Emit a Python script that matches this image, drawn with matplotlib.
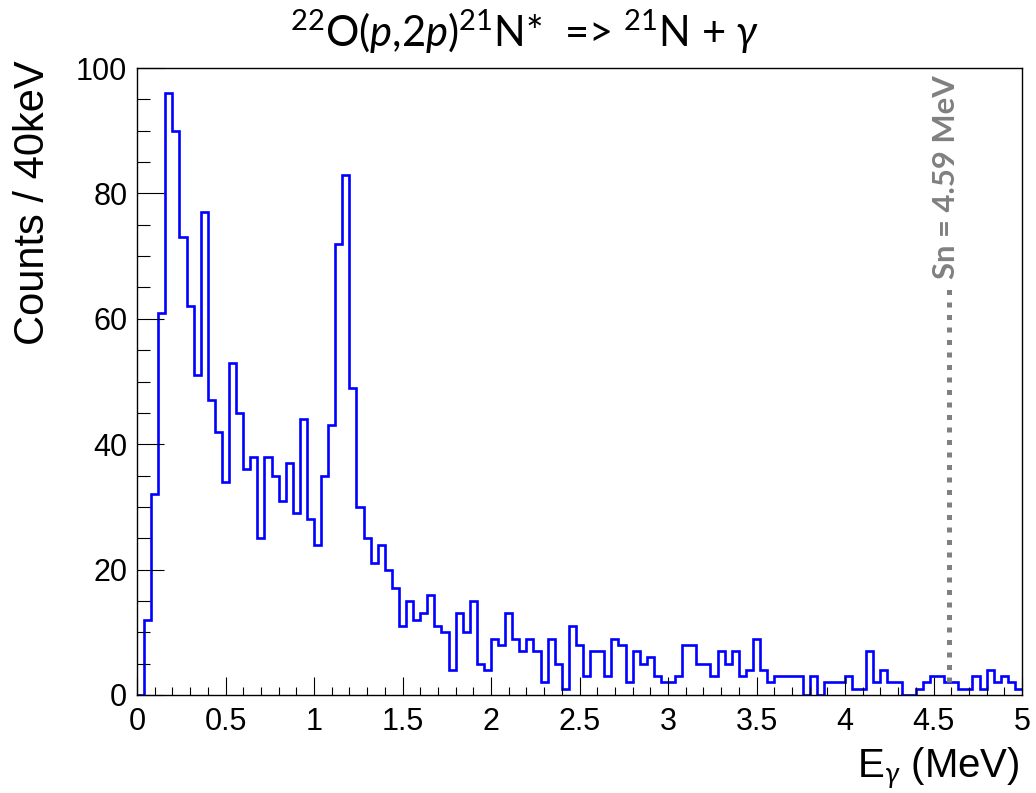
import numpy as np
import matplotlib
matplotlib.use("Agg")
import matplotlib.pyplot as plt
from matplotlib.ticker import MultipleLocator

# gamma spectrum, 40 keV bins from 0 to 5 MeV
bin_width = 0.04
counts = [
    0, 12, 32, 61, 96, 90, 73, 62, 51, 77, 47, 42, 34, 53, 45, 36, 38, 25, 38, 35, 31, 37, 29, 44, 28,
    24, 35, 43, 72, 83, 49, 30, 25, 21, 24, 20, 17, 11, 15, 12, 13, 16, 11, 10, 4, 13, 10, 15, 5, 4,
    9, 8, 13, 9, 7, 9, 7, 2, 9, 5, 1, 11, 8, 3, 7, 7, 3, 9, 8, 2, 7, 5, 6, 3, 2,
    2, 3, 8, 8, 5, 5, 3, 7, 5, 7, 3, 4, 9, 4, 2, 3, 3, 3, 3, 0, 3, 0, 2, 2, 2,
    3, 1, 1, 7, 2, 4, 2, 2, 0, 0, 1, 2, 3, 3, 2, 2, 1, 1, 3, 1, 4, 2, 3, 2, 1,
]
edges = np.arange(len(counts) + 1) * bin_width

sn_energy = 4.59
sn_range = [2, 65.5]
sn_label = "Sn = 4.59 MeV"

x_ticks = [0, 0.5, 1, 1.5, 2, 2.5, 3, 3.5, 4, 4.5, 5]
x_ticklabels = ["0", "0.5", "1", "1.5", "2", "2.5", "3", "3.5", "4", "4.5", "5"]
y_ticks = [0, 20, 40, 60, 80, 100]

plt.rcParams["font.family"] = ["Liberation Sans", "DejaVu Sans"]
plt.rcParams["mathtext.fontset"] = "custom"
plt.rcParams["mathtext.rm"] = "Lato"
plt.rcParams["mathtext.it"] = "Lato:italic"
plt.rcParams["mathtext.bf"] = "Lato:bold"

fig = plt.figure(figsize=(10.36, 7.93), dpi=100)
ax = fig.add_axes([137 / 1036, 1 - 695 / 793, (1022 - 137) / 1036, (695 - 68) / 793])

ax.stairs(counts, edges, color="#0000ff", linewidth=1.9, baseline=None)

# neutron separation energy marker
ax.vlines(sn_energy, sn_range[0], sn_range[1], color="#808080",
          linewidth=3.6, linestyles=(0, (1, 1.5)))
ax.text(sn_energy - 0.02, 98.9, sn_label, rotation=90, ha="center", va="top",
        color="#808080", fontsize=22.3, fontweight="bold", family="Lato")

ax.set_xlim(0, 5)
ax.set_ylim(0, 100)
ax.set_xticks(x_ticks)
ax.set_xticklabels(x_ticklabels)
ax.set_yticks(y_ticks)
ax.xaxis.set_minor_locator(MultipleLocator(0.1))
ax.yaxis.set_minor_locator(MultipleLocator(5))

ax.tick_params(axis="both", which="both", direction="in", width=0.8,
               labelsize=22, top=False, right=False)
ax.tick_params(axis="x", which="major", length=13, pad=9)
ax.tick_params(axis="x", which="minor", length=6)
ax.tick_params(axis="y", which="major", length=19.5, pad=7)
ax.tick_params(axis="y", which="minor", length=9.5)
for sp in ax.spines.values():
    sp.set_linewidth(1.0)

fig.text(1020 / 1036, 1 - 778 / 793, r"E$_{\gamma}$ (MeV)", ha="right", va="baseline",
         fontsize=29)
fig.text(33 / 1036, 1 - 60 / 793, "Counts / 40keV", rotation=90, ha="center", va="top",
         fontsize=30)

fig.text(525 / 1036, 1 - 47 / 793,
         r"$^{22}$O($p$,2$p$)$^{21}$N*  => $^{21}$N + $\gamma$",
         ha="center", va="baseline", fontsize=30, family="Lato")

fig.savefig("out.png", dpi=100)
